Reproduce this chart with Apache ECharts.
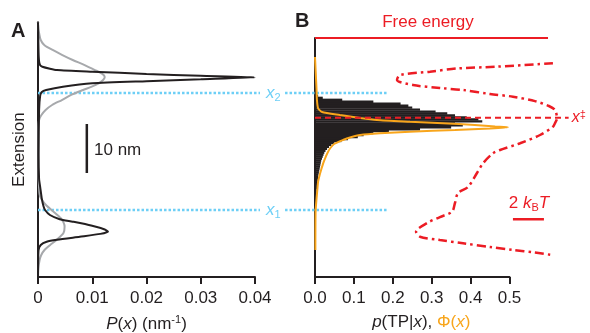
<!DOCTYPE html>
<html>
<head>
<meta charset="utf-8">
<script src="https://cdn.jsdelivr.net/npm/echarts@6/dist/echarts.min.js"></script>
<style>html,body{margin:0;padding:0;background:#fff}#c{width:590px;height:333px}</style>
</head>
<body>
<div id="c"></div>
<script>
// ---- Panel A: probability distributions P(x) vs extension (nm) ----
const blackExt = [52, 46, 44, 43.2, 42.9, 42.5, 42.24, 41.9, 41.43, 41.08, 40.75, 40.35, 39.96, 39.53, 38.84, 38.16, 37.76, 37.0, 34, 25, 20, 18.37, 16, 14.5, 13.67, 12.65, 11.8, 11.29, 10.5, 9.7, 9.24, 8.8, 8.22, 7.6, 7.2, 6.53, 5.5, 0];
const blackP   = [0, 0.0001, 0.0002, 0.0004, 0.0008, 0.0022, 0.0035, 0.01, 0.02, 0.03, 0.040, 0.03, 0.02, 0.01, 0.0046, 0.0015, 0.0007, 0.0004, 0.0002, 0.0001, 0.0002, 0.0004, 0.0007, 0.001, 0.0013, 0.0022, 0.004, 0.0064, 0.0098, 0.0123, 0.0129, 0.0115, 0.0077, 0.0035, 0.0016, 0.0005, 0.0001, 0];
const grayExt  = [52, 50.5, 49.8, 48.37, 47.3, 46.33, 45.3, 44.29, 43.3, 42.24, 41.5, 40.82, 40.2, 39.53, 38.8, 38.16, 37.2, 36.12, 35.1, 34.08, 33, 32.04, 30, 22, 18, 16.39, 15, 13.67, 12, 10.27, 9, 7.55, 6.5, 5.51, 4.5, 3.47, 2.04, 0];
const grayP    = [0, 0.0001, 0.0002, 0.0005, 0.0012, 0.0027, 0.0045, 0.0064, 0.0085, 0.0105, 0.0118, 0.0123, 0.012, 0.0112, 0.0098, 0.0083, 0.0062, 0.0044, 0.0026, 0.0014, 0.0006, 0.0002, 0.0001, 0.0001, 0.0002, 0.0004, 0.0012, 0.0025, 0.0042, 0.0049, 0.0047, 0.0034, 0.0022, 0.0012, 0.0006, 0.0003, 0.0001, 0];

// ---- Panel B: p(TP|x) histogram, Phi(x) and free energy ----
const histTop = 37.2;     // nm, upper edge of first bin
const histBin = 0.4;      // nm, bin width
const histP = [0.008, 0.02, 0.07, 0.15, 0.22, 0.24, 0.25, 0.27, 0.31, 0.34, 0.36, 0.39, 0.42, 0.43, 0.36, 0.38, 0.35, 0.27, 0.19, 0.15,
               0.125, 0.11, 0.085, 0.068, 0.05, 0.042, 0.036, 0.031, 0.027, 0.024, 0.022, 0.02, 0.018, 0.016, 0.015, 0.014, 0.013, 0.012, 0.011, 0.010,
               0.009, 0.008, 0.008, 0.007, 0.006, 0.006, 0.005, 0.005, 0.004, 0.004, 0.003, 0.003, 0.003, 0.002, 0.002, 0.002, 0.002, 0.001, 0.001, 0.001];
const phiExt = [44.9, 38.16, 36.1, 34.43, 33.67, 33.06, 32.45, 32.04, 31.69, 31.37, 31.02, 30.71, 30.55, 30.31, 30.0, 29.65, 29.33, 28.98, 28.47, 27.96, 27.14, 26.27, 25.3, 24.22, 23.2, 22.18, 20.8, 19.45, 17.8, 16.06, 13.33, 5.5];
const phiVal = [0, 0.004, 0.005, 0.008, 0.018, 0.064, 0.116, 0.159, 0.244, 0.329, 0.411, 0.463, 0.496, 0.45, 0.36, 0.244, 0.167, 0.116, 0.09, 0.072, 0.049, 0.039, 0.032, 0.026, 0.021, 0.017, 0.012, 0.008, 0.006, 0.004, 0.0015, 0.001];
const feExt = [43.61, 42.92, 42.55, 41.9, 41.22, 40.2, 39.18, 38.57, 38.16, 37.35, 36.8, 35.9, 34.9, 34.08, 32.39, 31.37, 30.67, 28.98, 27.29, 25.92, 25.24, 23.2, 21.22, 18.37, 17.14, 15.1, 13.33, 12.24, 11.02, 9.24, 8.22, 7.55, 6.88, 6.12, 5.51, 5.0, 4.49];
const feKT  = [10.06, 6.45, 3.87, 2.13, 0.19, 0, 1.03, 2.77, 4.26, 6.0, 7.48, 8.9, 9.8, 10.19, 10.32, 10.19, 10.06, 9.23, 7.94, 6.65, 6.19, 5.55, 5.16, 4.58, 3.94, 3.74, 3.55, 2.77, 1.94, 1.23, 1.48, 2.77, 4.26, 6.0, 7.48, 8.9, 10.0];

// ---- reference positions ----
const x2Ext = 37.55, x1Ext = 13.67, xTSExt = 32.5;     // nm
const scaleNm = [21.2, 31.2];                           // 10 nm scale bar
const scaleKT = [7.48, 9.48], scaleKTExt = 11.78;       // 2 kBT scale bar
const blueSpanA = [-0.712, -0.1414];                    // in p(TP|x) units, left of panel B
const blueSpanB = [-0.077, 0.185];
const tsSpan = [0, 0.652], headerSpan = [0, 0.599];

// ---- layout ----
const AXIS_Y = 277, PX_NM = 4.9, B_LEFT = 315, PX_P = 389, W = 590, H = 333;

const zip = (a, b) => a.map((v, i) => [b[i], v]);
const RED = '#ec1c24', BLUE = '#6dcff6', ORANGE = '#f8a51b', INK = '#231f20', GRAY = '#a7a9ac';
const FONT = 'Arial, "Liberation Sans", Helvetica, sans-serif';

const histData = histP.map((v, i) => [histTop - (i + 1) * histBin, histTop - i * histBin, v]);

const chart = echarts.init(document.getElementById('c'), null, { renderer: 'canvas' });
const axisText = { color: INK, fontSize: 17, fontFamily: FONT };
const rich = {
  i: { fontStyle: 'italic', fontSize: 17, fontFamily: FONT, color: INK },
  n: { fontSize: 17, fontFamily: FONT, color: INK },
  sup: { fontSize: 11, fontFamily: FONT, color: INK, padding: [0, 0, 9, 0] },
  o: { fontSize: 17, fontFamily: FONT, color: ORANGE },
  oi: { fontSize: 17, fontFamily: FONT, color: ORANGE, fontStyle: 'italic' }
};
const g = { containLabel: false, outerBoundsMode: 'none' };
const blueRich = { i: { fontSize: 17, fontStyle: 'italic', fontFamily: FONT, color: BLUE }, s: { fontSize: 11, fontFamily: FONT, color: BLUE, padding: [10, 0, 0, 0] } };
const blueStyle = { color: BLUE, width: 2.5, type: [2.5, 2] };

const option = {
  animation: false,
  grid: [
    Object.assign({ left: 38, top: AXIS_Y - 52 * PX_NM, width: 217, height: 52 * PX_NM }, g),
    Object.assign({ left: B_LEFT, top: AXIS_Y - 48.8 * PX_NM, width: 0.5 * PX_P, height: 48.8 * PX_NM }, g),
    Object.assign({ left: 397, top: AXIS_Y - 48.8 * PX_NM, width: 186, height: 48.8 * PX_NM }, g),
    Object.assign({ left: 0, top: 0, width: W, height: H }, g)
  ],
  xAxis: [
    { gridIndex: 0, type: 'value', min: 0, max: 0.04, interval: 0.01, splitLine: { show: false },
      axisLine: { lineStyle: { color: INK, width: 2 } }, axisTick: { length: 7, lineStyle: { color: INK, width: 2 } },
      axisLabel: Object.assign({ margin: 13, formatter: v => v === 0 ? '0' : v.toFixed(2) }, axisText),
      name: '{i|P}{n|(}{i|x}{n|) (nm}{sup|-1}{n|)}', nameLocation: 'middle', nameGap: 37,
      nameTextStyle: { rich: rich } },
    { gridIndex: 1, type: 'value', min: 0, max: 0.5, interval: 0.1, splitLine: { show: false },
      axisLine: { lineStyle: { color: INK, width: 2 } }, axisTick: { length: 7, lineStyle: { color: INK, width: 2 } },
      axisLabel: Object.assign({ margin: 13, formatter: v => v.toFixed(1) }, axisText),
      name: '{i|p}{n|(TP|}{i|x}{n|), }{o|Φ(}{oi|x}{o|)}', nameLocation: 'middle', nameGap: 37,
      nameTextStyle: { rich: rich, padding: [0, 0, 0, 18] } },
    { gridIndex: 2, type: 'value', min: 0, max: 12, show: false },
    { gridIndex: 3, type: 'value', min: -B_LEFT / PX_P, max: (W - B_LEFT) / PX_P, show: false }
  ],
  yAxis: [
    { gridIndex: 0, type: 'value', min: 0, max: 52, splitLine: { show: false },
      axisLine: { show: true, lineStyle: { color: INK, width: 2 } }, axisTick: { show: false }, axisLabel: { show: false },
      name: 'Extension', nameLocation: 'middle', nameGap: 10, nameRotate: 90,
      nameTextStyle: { color: INK, fontSize: 17, fontFamily: FONT } },
    { gridIndex: 1, type: 'value', min: 0, max: 48.8, splitLine: { show: false },
      axisLine: { show: true, lineStyle: { color: INK, width: 2 } }, axisTick: { show: false }, axisLabel: { show: false } },
    { gridIndex: 2, type: 'value', min: 0, max: 48.8, show: false },
    { gridIndex: 3, type: 'value', min: -(H - AXIS_Y) / PX_NM, max: AXIS_Y / PX_NM, show: false }
  ],
  graphic: [
    { type: 'text', left: 11, top: 21, style: { text: 'A', fontSize: 20, fontWeight: 'bold', fontFamily: FONT, fill: INK } },
    { type: 'text', left: 295, top: 11, style: { text: 'B', fontSize: 20, fontWeight: 'bold', fontFamily: FONT, fill: INK } },
    { type: 'text', x: 428, y: 22, style: { text: 'Free energy', fontSize: 17, fontFamily: FONT, fill: RED, align: 'center', verticalAlign: 'middle' } },
    { type: 'text', x: 94, y: 150, style: { text: '10 nm', fontSize: 17, fontFamily: FONT, fill: INK, align: 'left', verticalAlign: 'middle' } },
    { type: 'text', x: 529, y: 203, style: {
        text: '{n|2 }{i|k}{s|B}{i|T}', align: 'center', verticalAlign: 'middle',
        rich: { n: { fontSize: 17, fontFamily: FONT, fill: RED }, i: { fontSize: 17, fontFamily: FONT, fill: RED, fontStyle: 'italic' },
                s: { fontSize: 11, fontFamily: FONT, fill: RED, padding: [9, 0, 0, 0] } } } }
  ],
  series: [
    // Panel A
    { type: 'line', xAxisIndex: 0, yAxisIndex: 0, data: zip(grayExt, grayP), smooth: 0.25, showSymbol: false,
      lineStyle: { color: GRAY, width: 2 }, z: 3 },
    { type: 'line', xAxisIndex: 0, yAxisIndex: 0, data: zip(blackExt, blackP), smooth: 0.2, showSymbol: false,
      lineStyle: { color: INK, width: 2 }, z: 4 },
    { type: 'line', xAxisIndex: 0, yAxisIndex: 0, data: [[0.009, scaleNm[0]], [0.009, scaleNm[1]]], showSymbol: false,
      lineStyle: { color: INK, width: 2.5 }, z: 4 },
    // blue dotted reference lines across both panels (overlay grid)
    { type: 'line', xAxisIndex: 3, yAxisIndex: 3, data: [[blueSpanA[0], x2Ext], [blueSpanA[1], x2Ext]], showSymbol: false,
      lineStyle: blueStyle, z: 2, endLabel: { show: true, distance: 6, formatter: '{i|x}{s|2}', rich: blueRich } },
    { type: 'line', xAxisIndex: 3, yAxisIndex: 3, data: [[blueSpanA[0], x1Ext], [blueSpanA[1], x1Ext]], showSymbol: false,
      lineStyle: blueStyle, z: 2, endLabel: { show: true, distance: 6, formatter: '{i|x}{s|1}', rich: blueRich } },
    { type: 'line', xAxisIndex: 3, yAxisIndex: 3, data: [[blueSpanB[0], x2Ext], [blueSpanB[1], x2Ext]], showSymbol: false,
      lineStyle: blueStyle, z: 2 },
    { type: 'line', xAxisIndex: 3, yAxisIndex: 3, data: [[blueSpanB[0], x1Ext], [blueSpanB[1], x1Ext]], showSymbol: false,
      lineStyle: blueStyle, z: 2 },
    // Panel B histogram
    { type: 'custom', xAxisIndex: 1, yAxisIndex: 1, data: histData, encode: { x: 2, y: [0, 1] }, z: 3,
      renderItem: function (params, api) {
        const lo = api.value(0), hi = api.value(1), v = api.value(2);
        const p0 = api.coord([0, hi]), p1 = api.coord([v, lo]);
        return { type: 'rect', shape: { x: p0[0], y: p0[1], width: p1[0] - p0[0], height: p1[1] - p0[1] + 0.4 }, style: { fill: INK } };
      } },
    { type: 'line', xAxisIndex: 1, yAxisIndex: 1, data: zip(phiExt, phiVal), smooth: 0.2, showSymbol: false,
      lineStyle: { color: ORANGE, width: 2 }, z: 5 },
    // Free energy header line
    { type: 'line', xAxisIndex: 3, yAxisIndex: 3, data: [[headerSpan[0], 48.8], [headerSpan[1], 48.8]], showSymbol: false,
      lineStyle: { color: RED, width: 2 }, z: 5 },
    // transition state dashed line
    { type: 'line', xAxisIndex: 3, yAxisIndex: 3, data: [[tsSpan[0], xTSExt], [tsSpan[1], xTSExt]], showSymbol: false,
      lineStyle: { color: RED, width: 2, type: [6, 4] }, z: 6,
      endLabel: { show: true, distance: 3, formatter: '{i|x}{s|‡}',
        rich: { i: { fontSize: 16, fontStyle: 'italic', fontFamily: FONT, color: RED }, s: { fontSize: 11, fontFamily: FONT, color: RED, padding: [0, 0, 6, 0] } } } },
    // Free energy profile
    { type: 'line', xAxisIndex: 2, yAxisIndex: 2, data: zip(feExt, feKT), smooth: 0.3, showSymbol: false,
      lineStyle: { color: RED, width: 2.5, type: [9, 4, 2.5, 4] }, z: 6 },
    // 2 kBT scale bar
    { type: 'line', xAxisIndex: 2, yAxisIndex: 2, data: [[scaleKT[0], scaleKTExt], [scaleKT[1], scaleKTExt]], showSymbol: false,
      lineStyle: { color: RED, width: 2.5 }, z: 6 }
  ]
};
chart.setOption(option);
</script>
</body>
</html>
